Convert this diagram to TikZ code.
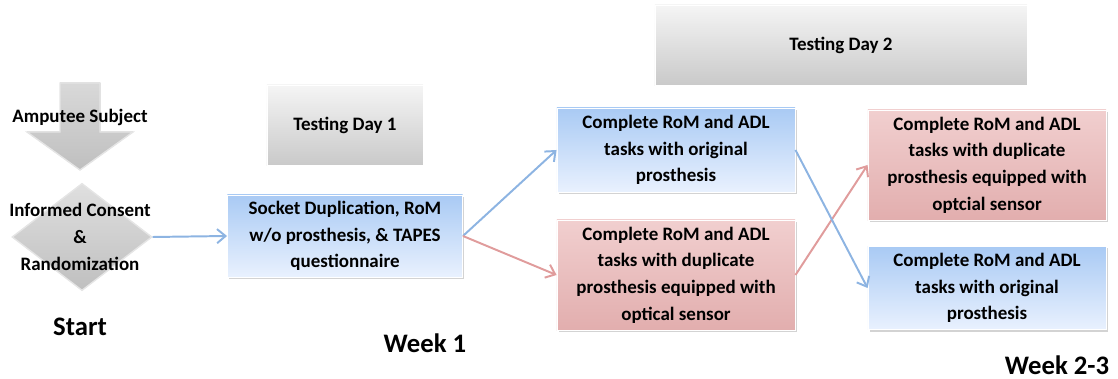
\documentclass[tikz,border=0pt]{standalone}
\usepackage{fontspec}
\setmainfont{Carlito}
\usetikzlibrary{arrows.meta, shapes.geometric, shadows}
\definecolor{flowblue}{HTML}{8DB4E2}
\definecolor{flowred}{HTML}{E09C9C}
\definecolor{bluetop}{HTML}{A9CAF4}
\definecolor{bluebot}{HTML}{E9F1FE}
\definecolor{redtop}{HTML}{F1CFCF}
\definecolor{redbot}{HTML}{E2AEAE}

\begin{document}
\begin{tikzpicture}[
      x=0.025cm, y=-0.025cm,
      font=\bfseries\fontsize{13.5}{19}\selectfont,
      task/.style={rectangle, draw=white, line width=0.6pt, align=center,
                   inner sep=2pt, minimum width=5.95cm,
                   drop shadow={shadow xshift=1.2pt, shadow yshift=-1.5pt, opacity=0.35}},
      bluetask/.style={task, top color=bluetop, bottom color=bluebot},
      redtask/.style={task, top color=redtop, bottom color=redbot},
      daybox/.style={rectangle, draw=white, top color=gray!8, bottom color=gray!42,
                     minimum height=2cm,
                     drop shadow={shadow xshift=1pt, shadow yshift=-1pt, opacity=0.25}},
      week/.style={font=\bfseries\fontsize{19}{22}\selectfont},
      blueflow/.style={flowblue, line width=1.4pt, -{Straight Barb[length=6pt, width=10pt]}},
      redflow/.style={flowred, line width=1.4pt, -{Straight Barb[length=6pt, width=10pt]}},
    ]
    \useasboundingbox (0,0) rectangle (1118,379);

    % start of the protocol
    \fill[top color=gray!30, bottom color=gray!50, draw=gray!20, line width=1pt]
      (60,83) -- (100,83) -- (100,132) -- (133,132) -- (80,170)
      -- (27,132) -- (60,132) -- cycle;
    \node (subj) at (80,117) {Amputee Subject};
    \node[diamond, draw=gray!20, line width=1pt, top color=gray!25, bottom color=gray!50,
          minimum width=3.5cm, minimum height=2.68cm, inner sep=0pt] (rand) at (82,237) {};
    \node[align=center] (randtxt) at (80,237) {Informed Consent\\\&\\Randomization};
    \node[week] (start) at (80,327) {Start};

    % testing day 1
    \node[daybox, minimum width=3.9cm] (day1) at (345,125) {Testing Day 1};
    \node[bluetask, minimum width=5.875cm, minimum height=2.05cm] (sock) at (345,236)
      {Socket Duplication, RoM\\w/o prosthesis, \& TAPES\\questionnaire};
    \node[week] (wk1) at (425,343) {Week 1};

    % testing day 2
    \node[daybox, minimum width=9.3cm] (day2) at (841,45) {Testing Day 2};
    \node[bluetask, minimum height=2.1cm] (origA) at (676,150)
      {Complete RoM and ADL\\tasks with original\\prosthesis};
    \node[redtask, minimum height=2.75cm] (dupA) at (676,275)
      {Complete RoM and ADL\\tasks with duplicate\\prosthesis equipped with\\optical sensor};
    \node[redtask, minimum height=2.75cm] (dupB) at (987,165)
      {Complete RoM and ADL\\tasks with duplicate\\prosthesis equipped with\\optcial sensor};
    \node[bluetask, minimum height=2.08cm] (origB) at (987,288)
      {Complete RoM and ADL\\tasks with original\\prosthesis};
    \node[week] (wk23) at (1057,365) {Week 2-3};

    \draw[blueflow] (rand.east) -- (sock.west);
    \draw[blueflow] (sock.east) -- (origA.west);
    \draw[redflow] (sock.east) -- (dupA.west);
    \draw[redflow] (dupA.east) -- (dupB.west);
    \draw[blueflow] (origA.east) -- (origB.west);
  \end{tikzpicture}
\end{document}
